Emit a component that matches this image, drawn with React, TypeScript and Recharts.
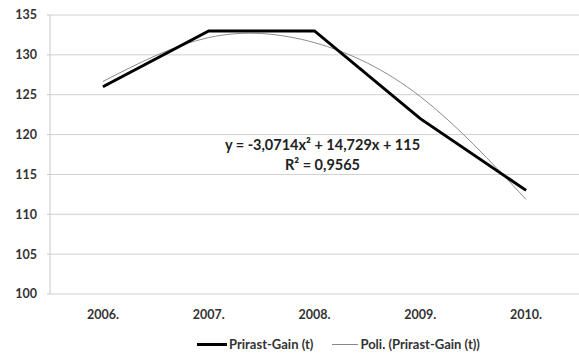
import React from 'react';
import { LineChart, Line, XAxis, YAxis, CartesianGrid, Legend } from 'recharts';

const years = ['2006.', '2007.', '2008.', '2009.', '2010.'];
const positions = [1, 2, 3, 4, 5];
const gain = [126, 133, 133, 122, 113];
const trend = [126.66, 132.17, 131.53, 124.77, 111.86];
const yTicks = [100, 105, 110, 115, 120, 125, 130, 135];
const boundaryTicks = [1.5, 2.5, 3.5, 4.5];
const seriesNames = ['Prirast-Gain (t)', 'Poli. (Prirast-Gain (t))'];
const equationText = 'y = -3,0714x² + 14,729x + 115';
const r2Text = 'R² = 0,9565';

const data = positions.map((p, i) => ({ x: p, gain: gain[i], trend: trend[i] }));

const FONT = 'Lato, "Open Sans", sans-serif';

const LegendContent = () => (
  <div style={{ display: 'flex', alignItems: 'center', marginLeft: 197, height: 20, lineHeight: '20px', fontFamily: FONT, fontWeight: 700, fontSize: 13, color: '#333' }}>
    <div style={{ width: 30, height: 3, background: '#000' }} />
    <span style={{ marginLeft: 2 }}>{seriesNames[0]}</span>
    <div style={{ width: 26, height: 1, background: '#888', marginLeft: 19 }} />
    <span style={{ marginLeft: 2 }}>{seriesNames[1]}</span>
  </div>
);

export default function App() {
  return (
    <div style={{ position: 'absolute', left: 0, top: 0, width: 579, height: 356, background: '#fff' }}>
      <LineChart width={579} height={356} data={data} margin={{ top: 15, right: 0, bottom: 2, left: 0 }}>
        <CartesianGrid vertical={false} stroke="#d0d0d0" strokeWidth={1} />
        <XAxis
          xAxisId="minor"
          type="number"
          dataKey="x"
          domain={[0.5, 5.5]}
          ticks={boundaryTicks}
          tick={false}
          tickSize={4}
          tickLine={{ stroke: '#c8c8c8' }}
          axisLine={{ stroke: '#c8c8c8' }}
          height={0}
        />
        <XAxis
          xAxisId="main"
          type="number"
          dataKey="x"
          domain={[0.5, 5.5]}
          ticks={positions}
          tickFormatter={(v: number) => years[v - 1]}
          tickLine={false}
          axisLine={false}
          tickMargin={10}
          height={40}
          tick={{ fontFamily: FONT, fontWeight: 700, fontSize: 12.5, fill: '#333' }}
        />
        <YAxis
          domain={[100, 135]}
          ticks={yTicks}
          width={50}
          tickSize={3}
          tickMargin={10}
          axisLine={{ stroke: '#c8c8c8' }}
          tickLine={{ stroke: '#c8c8c8' }}
          tick={{ fontFamily: FONT, fontWeight: 700, fontSize: 12.5, fill: '#333' }}
        />
        <Line xAxisId="main" type="natural" dataKey="trend" stroke="#8c8c8c" strokeWidth={1} dot={false} isAnimationActive={false} />
        <Line xAxisId="main" type="linear" dataKey="gain" stroke="#000" strokeWidth={3} dot={false} isAnimationActive={false} />
        <Legend verticalAlign="bottom" height={20} wrapperStyle={{ left: 0, width: 579, top: 334, bottom: 'auto' }} content={<LegendContent />} />
      </LineChart>
      <div style={{ position: 'absolute', left: 212, top: 135, width: 221, textAlign: 'center', fontFamily: FONT, fontWeight: 700, fontSize: 14.5, color: '#222', lineHeight: '20px' }}>
        <div>{equationText}</div>
        <div>{r2Text}</div>
      </div>
    </div>
  );
}
